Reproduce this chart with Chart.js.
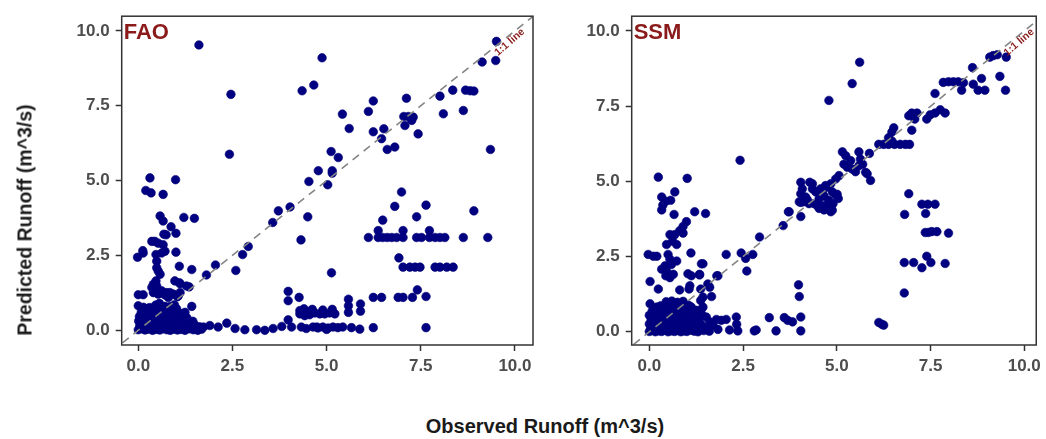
<!DOCTYPE html>
<html>
<head>
<meta charset="utf-8">
<script src="https://cdn.jsdelivr.net/npm/chart.js@4.4.1/dist/chart.umd.min.js"></script>
<style>
html,body{margin:0;padding:0;background:#fff;}
#wrap{position:relative;width:1046px;height:439px;overflow:hidden;background:#fff;font-family:"Liberation Sans",Arial,sans-serif;}
#c1{position:absolute;left:0;top:0;}
#c2{position:absolute;left:545px;top:0;}
.ytitle{position:absolute;left:25px;top:220px;transform:translate(-50%,-50%) rotate(-90deg);font-weight:bold;font-size:19.5px;color:#1a1a1a;white-space:nowrap;}
.xtitle{position:absolute;left:545px;top:426px;transform:translate(-50%,-50%);font-weight:bold;font-size:20px;color:#1a1a1a;white-space:nowrap;}
</style>
</head>
<body>
<div id="wrap">
  <canvas id="c1" width="545" height="390"></canvas>
  <canvas id="c2" width="501" height="390"></canvas>
  <div class="ytitle">Predicted Runoff (m^3/s)</div>
  <div class="xtitle">Observed Runoff (m^3/s)</div>
</div>
<script>
// ---- data ----
const panelNames = ['FAO', 'SSM'];
const xTicks = [0, 2.5, 5, 7.5, 10];
const yTicks = [0, 2.5, 5, 7.5, 10];
const oneToOne = [-1, 11];
const oneToOneLabel = '1:1 line';

// FAO: [observed, predicted]
const faoPoints = [
  [1.61,9.53],[2.46,7.88],[2.42,5.88],[4.88,9.10],[4.35,8.00],[4.66,8.19],[9.51,9.65],[9.49,9.01],[9.13,8.96],
  [5.42,7.22],[5.60,6.74],[6.24,7.66],[6.11,7.31],[6.24,6.63],[6.52,6.73],[6.46,6.40],[6.61,6.04],[6.81,6.12],
  [7.12,7.75],[7.05,7.14],[7.17,7.14],[7.30,7.12],[7.26,7.01],[7.08,6.84],[7.43,6.56],[8.01,7.82],[8.35,8.02],
  [8.10,7.23],[8.63,7.34],[8.69,8.02],[8.81,8.00],[8.91,7.99],[9.35,6.04],
  [5.12,5.97],[5.31,5.77],[5.15,5.33],[5.15,5.25],[4.78,5.33],[5.03,4.86],[4.53,4.97],[4.03,4.12],[3.72,3.99],
  [3.57,3.60],[4.50,3.79],[4.32,3.02],[2.92,2.80],[2.77,2.53],[2.59,2.00],[2.05,2.18],[1.81,1.85],[5.13,1.92],
  [6.99,4.62],[6.81,4.14],[7.64,4.18],[7.39,3.79],[8.91,3.99],[6.49,3.68],
  [6.11,3.10],[6.37,3.10],[6.49,3.10],[6.61,3.10],[6.73,3.10],[6.86,3.10],[7.03,3.10],[7.39,3.10],[7.52,3.10],
  [7.73,3.10],[7.88,3.10],[8.01,3.10],[8.14,3.10],[8.63,3.10],[9.28,3.10],[6.37,3.33],[7.03,3.33],[7.73,3.33],
  [6.92,2.42],[7.03,2.11],[7.21,2.11],[7.35,2.11],[7.48,2.11],[7.88,2.11],[8.01,2.11],[8.19,2.11],[8.36,2.11],
  [6.24,1.10],[6.46,1.10],[6.90,1.10],[7.03,1.10],[7.28,1.10],[7.41,1.35],[7.64,1.13],[7.64,0.09],[6.24,0.09],
  [3.98,1.30],[3.98,0.99],[4.27,1.10],
  [4.29,0.55],[4.42,0.58],[4.55,0.52],[4.69,0.58],[4.82,0.55],[4.95,0.55],[5.08,0.58],[5.22,0.55],
  [4.40,0.72],[4.62,0.70],[4.90,0.68],[5.15,0.70],
  [4.33,0.11],[4.64,0.11],[4.77,0.08],[4.90,0.11],[5.04,0.08],[5.17,0.11],[5.30,0.09],[5.43,0.11],[5.66,0.09],
  [5.88,0.04],[4.46,0.06],[5.00,0.03],
  [5.58,1.04],[5.58,0.82],[5.58,0.60],[5.90,0.88],[5.90,0.64],
  [3.98,0.35],[4.07,0.11],[4.29,0.66],[4.42,0.49],[4.60,0.66],[4.74,0.11],
  [1.73,0.11],[1.90,0.16],[2.12,0.11],[2.35,0.24],[2.57,0.06],[2.83,0.02],[3.14,0.02],[3.36,0.00],[3.58,0.06],[3.81,0.13],
  [0.31,5.09],[0.99,5.03],[0.20,4.67],[0.34,4.59],[0.66,4.54],[0.58,3.82],[0.66,3.65],[0.87,3.46],[1.00,3.24],
  [0.74,3.19],[1.21,3.77],[1.49,3.74],[0.36,2.97],[0.44,2.97],[0.53,2.91],[0.66,2.86],[0.71,2.64],[0.12,2.66],
  [-0.02,2.44],[0.47,2.53],[0.49,2.31],[0.49,2.09],[1.00,2.61],[1.09,2.14],[1.42,2.03],[1.35,1.45],[1.11,1.56],
  [1.04,1.12],[0.00,1.19],[0.13,1.19],[0.00,0.82],[0.14,0.77],[1.42,0.80],[0.40,1.26],[0.53,1.21],[0.62,1.26],
  [0.71,1.18],[0.80,1.10],[0.93,1.21],[0.68,3.21],[0.62,2.58],[0.13,2.58],[0.53,1.98],[0.58,1.87],[0.47,1.65],
  [0.40,1.54],[0.36,1.43],[0.49,1.48],[0.62,1.32],[0.75,1.26],[0.84,1.26],[0.97,1.65],[1.09,1.59],[1.28,1.48],
  [1.06,1.15],[1.11,1.26],[0.18,0.72],[0.66,0.72],[0.84,0.79],
  [0.00,0.02],[0.09,0.05],[0.18,0.01],[0.27,0.04],[0.38,0.00],[0.47,0.03],[0.57,0.01],[0.66,0.05],[0.76,0.02],
  [0.85,0.00],[0.95,0.04],[1.04,0.01],[1.14,0.03],[1.24,0.00],[1.35,0.05],[1.46,0.02],[1.58,0.00],[1.68,0.04],
  [0.04,0.16],[0.16,0.13],[0.29,0.18],[0.43,0.14],[0.56,0.17],[0.70,0.12],[0.83,0.19],[0.97,0.15],[1.10,0.12],
  [1.23,0.17],[1.37,0.14],[1.50,0.18],[1.62,0.12],
  [0.01,0.31],[0.12,0.28],[0.24,0.33],[0.38,0.30],[0.51,0.27],[0.64,0.34],[0.78,0.29],[0.91,0.32],[1.05,0.28],
  [1.19,0.33],[1.32,0.27],[1.45,0.30],
  [0.03,0.46],[0.17,0.44],[0.31,0.48],[0.45,0.43],[0.59,0.47],[0.73,0.45],[0.87,0.49],[1.01,0.44],[1.16,0.47],[1.29,0.42],
  [0.08,0.60],[0.22,0.63],[0.36,0.59],[0.50,0.62],[0.64,0.58],[0.79,0.64],[0.94,0.61],[1.09,0.57],[1.24,0.60],
  [0.30,0.76],[0.46,0.84],[0.56,0.90],[0.71,0.80],[0.96,0.85],[0.24,0.70],[1.02,0.72]
];

// SSM: [observed, predicted]
const ssmPoints = [
  [5.61,8.96],[5.41,8.25],[4.79,7.69],[9.52,9.13],[9.17,9.18],[9.28,9.21],[9.08,9.13],[9.35,8.49],[9.50,8.03],
  [8.62,8.78],[8.86,8.42],[8.95,8.03],[8.77,8.03],[8.64,8.23],[8.33,8.03],[7.84,8.29],[7.98,8.31],[8.11,8.31],
  [8.24,8.31],[8.38,8.28],[7.62,7.92],
  [7.89,7.27],[7.76,7.38],[7.62,7.27],[7.49,7.21],[7.40,7.07],[7.14,7.27],[7.00,7.27],[6.92,7.18],[7.08,7.07],[7.00,6.70],
  [6.52,6.78],[6.47,6.64],[6.38,6.45],[6.12,6.23],[6.25,6.23],[6.38,6.23],[6.54,6.23],[6.69,6.23],[6.83,6.23],[6.94,6.23],[6.47,6.34],
  [5.15,5.98],[5.59,5.98],[5.87,5.93],[5.69,5.57],[5.24,5.85],[5.19,5.57],[5.28,5.47],[5.41,5.41],[5.50,5.32],
  [5.59,5.52],[5.77,5.30],[5.81,5.25],[5.90,5.03],[5.63,5.74],[5.37,5.69],
  [5.06,5.19],[4.97,5.08],[4.84,4.92],[4.75,4.81],[4.62,4.70],[4.88,4.65],[4.66,4.51],[4.97,4.56],[5.04,4.43],[4.79,4.37],
  [4.04,4.97],[4.08,4.75],[4.04,4.59],[4.00,4.32],[4.18,4.43],[4.26,4.26],[4.40,4.26],[4.53,4.10],[4.66,4.05],
  [4.84,3.99],[4.44,4.65],[4.35,4.92],[4.04,3.83],[3.73,3.99],
  [4.28,4.97],[4.35,4.75],[4.57,4.75],[4.70,4.86],[4.13,4.32],[4.22,4.37],[4.48,4.19],[4.62,4.19],[4.75,4.10],
  [4.88,4.04],[4.53,4.43],[4.79,4.32],[4.90,4.26],[4.17,4.48],[5.01,4.57],
  [2.05,2.57],[2.45,2.62],[2.57,2.44],[2.76,2.57],[2.60,2.02],[2.94,3.15],[3.57,3.53],[3.71,3.99],[4.04,4.30],
  [1.80,1.86],[1.43,2.26],[1.34,1.89],[2.42,5.70],
  [6.92,4.59],[6.81,3.90],[7.27,4.24],[7.43,4.24],[7.62,4.24],[7.37,3.93],[7.98,3.28],[7.36,3.30],[7.44,3.30],
  [7.53,3.33],[7.67,3.33],[6.80,2.30],[7.05,2.30],[7.40,2.51],[7.27,2.13],[7.51,2.30],[7.89,2.27],[6.80,1.29],
  [6.12,0.31],[6.25,0.22],[6.20,0.25],
  [3.98,1.56],[4.00,1.17],[4.04,0.49],[4.04,0.03],[3.20,0.47],[3.60,0.47],[3.69,0.38],[3.82,0.33],[3.38,0.03],
  [2.80,0.03],[2.85,0.06],[2.32,0.49],[2.33,0.25],[2.14,0.06],[2.36,0.03],[2.05,0.41],[1.92,0.38],[1.79,0.41],
  [1.83,0.08],[1.52,0.49],[1.61,0.33],[1.70,0.22],[1.43,0.82],[1.12,0.82],[1.26,0.71],[1.39,0.60],[0.02,0.93],[0.20,0.82],
  [0.24,5.14],[1.01,5.10],[0.33,4.48],[0.44,4.34],[0.36,4.21],[0.57,4.37],[0.33,4.05],[0.68,4.65],[0.66,3.90],
  [1.21,3.99],[1.50,3.93],[0.99,3.66],[0.90,3.50],[0.81,3.36],[0.68,3.23],[0.55,3.23],[0.46,2.90],[0.62,3.01],
  [0.73,2.90],[0.90,3.28],[-0.03,2.57],[0.11,2.51],[0.20,2.51],[0.50,2.57],[0.55,2.41],[0.42,2.19],[0.46,2.02],
  [0.33,2.08],[0.44,1.86],[0.55,1.80],[0.64,1.91],[0.73,2.35],[0.59,2.24],[1.11,2.62],[1.39,2.26],[1.03,1.93],
  [1.12,1.86],[1.34,1.91],[0.02,1.67],[0.24,1.42],[0.81,1.39],[1.08,1.53],[1.06,1.42],[1.37,1.42],[1.43,1.15],
  [1.56,1.59],[1.61,1.48],[1.66,1.17],[1.83,1.86],[1.37,1.04],
  [0.00,0.01],[0.08,0.04],[0.16,0.00],[0.25,0.03],[0.33,0.01],[0.42,0.05],[0.50,0.00],[0.58,0.03],[0.67,0.01],
  [0.75,0.04],[0.84,0.00],[0.92,0.03],[1.00,0.01],[1.10,0.05],[1.20,0.02],[1.30,0.00],[1.45,0.04],[1.60,0.02],
  [0.04,0.13],[0.14,0.11],[0.22,0.15],[0.30,0.12],[0.40,0.14],[0.48,0.10],[0.56,0.13],[0.64,0.16],[0.72,0.11],
  [0.80,0.14],[0.90,0.12],[1.00,0.15],[1.08,0.10],[1.18,0.13],[1.28,0.16],[1.40,0.11],[1.55,0.14],
  [0.00,0.26],[0.10,0.24],[0.20,0.27],[0.28,0.23],[0.37,0.26],[0.45,0.28],[0.54,0.24],[0.62,0.27],[0.70,0.25],
  [0.78,0.22],[0.88,0.27],[0.96,0.24],[1.05,0.26],[1.15,0.23],[1.25,0.28],[1.38,0.25],
  [0.05,0.40],[0.15,0.38],[0.24,0.42],[0.33,0.39],[0.42,0.41],[0.50,0.37],[0.60,0.43],[0.68,0.40],[0.76,0.38],
  [0.85,0.42],[0.94,0.39],[1.03,0.41],[1.12,0.37],[1.22,0.42],[1.32,0.39],
  [0.00,0.55],[0.12,0.53],[0.22,0.57],[0.30,0.54],[0.40,0.56],[0.48,0.52],[0.57,0.58],[0.66,0.55],[0.74,0.53],
  [0.82,0.57],[0.92,0.54],[1.02,0.56],[1.12,0.52],[1.25,0.55],
  [0.08,0.70],[0.20,0.68],[0.32,0.72],[0.42,0.69],[0.52,0.71],[0.62,0.67],[0.72,0.73],[0.80,0.70],[0.90,0.68],
  [1.00,0.72],[1.15,0.69],
  [0.30,0.86],[0.40,0.84],[0.50,0.88],[0.60,0.85],[0.70,0.87],[0.80,0.83],[0.92,0.86],[1.05,0.88],
  [0.45,1.00],[0.60,1.02],[0.75,0.98],[0.90,1.01]
];

// ---- drawing ----
const FONT = '"Liberation Sans", Arial, sans-serif';
const RED = '#8B1A1A';

const panelPlugin = {
  id: 'panelDecor',
  afterDatasetsDraw(chart, args, opts) {
    const ctx = chart.ctx, a = chart.chartArea;
    const xs = chart.scales.x, ys = chart.scales.y;
    ctx.save();
    const lx = xs.getPixelForValue(9.86), ly = ys.getPixelForValue(9.62);
    ctx.translate(lx, ly);
    ctx.rotate(-41 * Math.PI / 180);
    ctx.fillStyle = RED;
    ctx.font = 'bold 10.5px ' + FONT;
    ctx.textAlign = 'center';
    ctx.textBaseline = 'middle';
    ctx.fillText(oneToOneLabel, 0, 0);
    ctx.restore();
    ctx.save();
    ctx.strokeStyle = '#333333';
    ctx.lineWidth = 1.5;
    ctx.strokeRect(a.left, a.top, a.right - a.left, a.bottom - a.top);
    ctx.fillStyle = RED;
    ctx.font = 'bold 22px ' + FONT;
    ctx.textAlign = 'left';
    ctx.textBaseline = 'alphabetic';
    ctx.fillText(opts.label, a.left + 2, a.top + 23);
    ctx.restore();
  }
};

function axisCfg(ticksArr, min, max, fitFn) {
  return {
    type: 'linear', min: min, max: max,
    afterBuildTicks: s => { s.ticks = ticksArr.map(v => ({ value: v })); },
    afterFit: fitFn,
    grid: { drawOnChartArea: false, drawTicks: true, tickLength: 6, color: '#333333', tickWidth: 1.5 },
    border: { display: false },
    ticks: {
      padding: 6, color: '#4d4d4d', autoSkip: false, maxRotation: 0,
      font: { family: FONT, size: 17, weight: 'bold' },
      callback: v => Number(v).toFixed(1)
    }
  };
}

function makeChart(id, points, label, g) {
  const ys = axisCfg(yTicks, g.ymin, g.ymax, s => { s.width = g.yW; });
  ys.ticks.padding = 6;
  const xs = axisCfg(xTicks, g.xmin, g.xmax, s => { s.height = g.xH; });
  xs.ticks.padding = 5;
  return new Chart(document.getElementById(id), {
    type: 'scatter',
    data: {
      datasets: [
        {
          type: 'line',
          data: oneToOne.map(v => ({ x: v, y: v })),
          borderColor: '#858585', borderWidth: 1.6, borderDash: [8, 6],
          pointRadius: 0, fill: false, order: 0, clip: 0
        },
        {
          data: points.map(p => ({ x: p[0], y: p[1] })),
          backgroundColor: '#000080', borderColor: '#00007a', borderWidth: 0.6,
          pointRadius: 4.3, pointHoverRadius: 4.3, order: 1, clip: 0
        }
      ]
    },
    options: {
      responsive: false, animation: false, devicePixelRatio: 1,
      layout: { padding: { left: 0, right: g.padR, top: g.padT, bottom: 0 } },
      plugins: { legend: { display: false }, tooltip: { enabled: false }, panelDecor: { label: label } },
      events: [],
      scales: { x: xs, y: ys }
    },
    plugins: [panelPlugin]
  });
}

makeChart('c1', faoPoints, panelNames[0], { xmin: -0.44, xmax: 10.48, ymin: -0.49, ymax: 10.49, yW: 121.7, padR: 12, padT: 11.7, xH: 45 });
makeChart('c2', ssmPoints, panelNames[1], { xmin: -0.47, xmax: 10.32, ymin: -0.44, ymax: 10.49, yW: 86.7, padR: 7, padT: 11.7, xH: 45 });
</script>
</body>
</html>
